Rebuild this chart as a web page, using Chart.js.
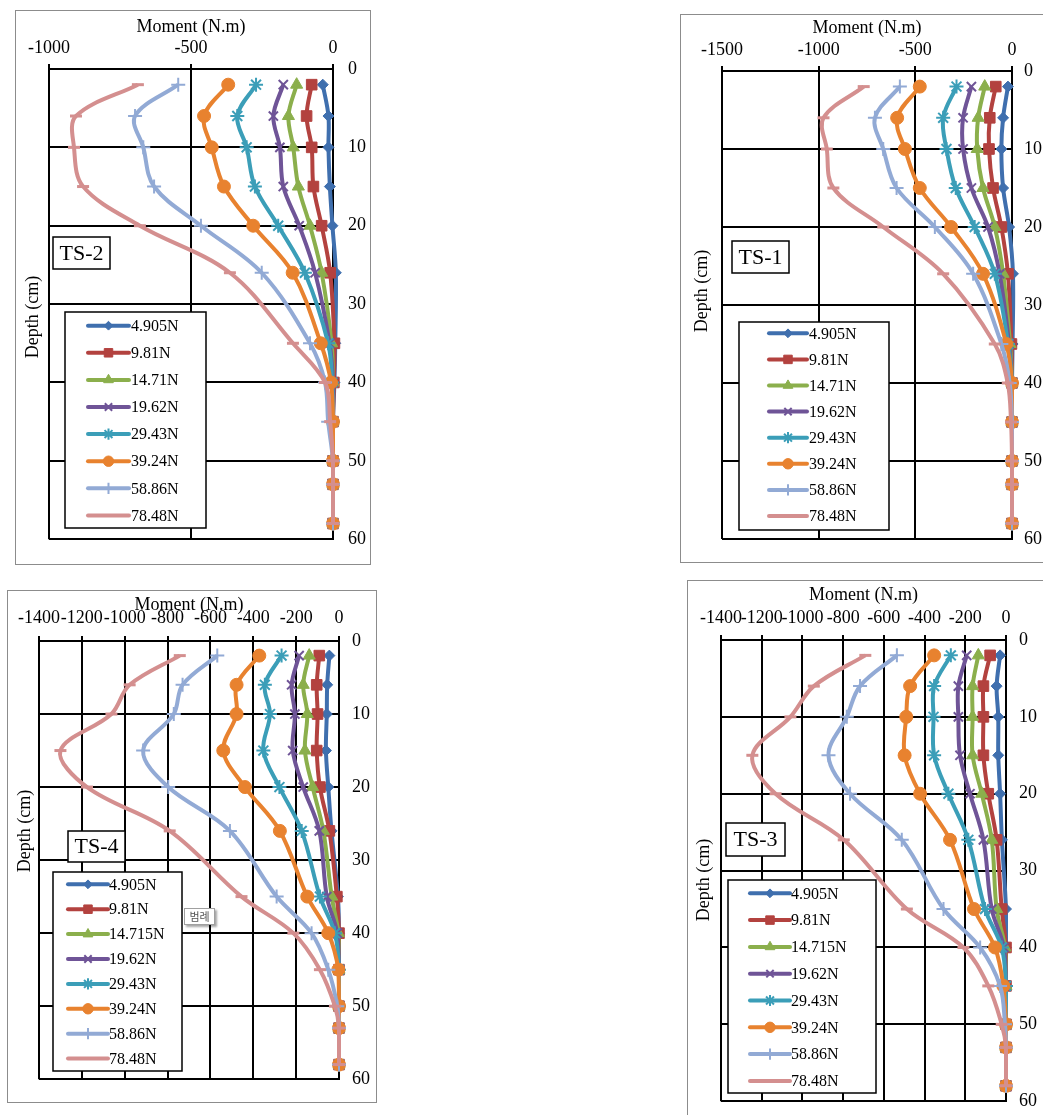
<!DOCTYPE html>
<html>
<head>
<meta charset="utf-8">
<title>Moment vs depth</title>
<script src="https://cdn.jsdelivr.net/npm/chart.js@4.4.1/dist/chart.umd.min.js"></script>
<style>
  html, body { margin: 0; padding: 0; background: #fff; }
  body { width: 1043px; height: 1115px; overflow: hidden; position: relative; }
  canvas { position: absolute; }
  .frame { position: absolute; border: 1.5px solid #8c8c8c; box-sizing: border-box; pointer-events: none; }
  .tip {
    position: absolute; left: 184px; top: 908px; width: 31px; height: 17px;
    border: 1px solid #a0a0a0; background: #fff; box-sizing: border-box;
    box-shadow: 2px 2px 2px rgba(0,0,0,0.35);
    font: 11px "Noto Sans CJK KR", sans-serif; color: #555; text-align: center; line-height: 15px;
  }
</style>
</head>
<body>

<canvas id="ts2" width="356" height="555" style="left:15px;top:10px"></canvas>
<canvas id="ts1" width="380" height="549" style="left:680px;top:14px"></canvas>
<canvas id="ts4" width="370" height="513" style="left:7px;top:590px"></canvas>
<canvas id="ts3" width="373" height="545" style="left:687px;top:580px"></canvas>

<div class="frame" style="left:15px;top:10px;width:356px;height:555px"></div>
<div class="frame" style="left:680px;top:14px;width:380px;height:549px"></div>
<div class="frame" style="left:7px;top:590px;width:370px;height:513px"></div>
<div class="frame" style="left:687px;top:580px;width:373px;height:545px"></div>
<div class="tip">범례</div>

<script>
// depth of each measuring point (cm)
const depths = [2, 6, 10, 15, 20, 26, 35, 40, 45, 50, 53, 58];

const loadsTop = ['4.905N', '9.81N', '14.71N', '19.62N', '29.43N', '39.24N', '58.86N', '78.48N'];
const loadsBottom = ['4.905N', '9.81N', '14.715N', '19.62N', '29.43N', '39.24N', '58.86N', '78.48N'];

// moments (N.m), one row per load, one value per depth
const ts2Moments = [
    [-36, -16, -16, -11, -2, 10, 8, 5, 0, 0, 0, 0],
    [-75, -93, -75, -69, -40, -10, 5, 3, 0, 0, 0, 0],
    [-128, -157, -140, -122, -81, -40, -5, 0, 0, 0, 0, 0],
    [-175, -210, -187, -175, -119, -63, -12, 0, 0, 0, 0, 0],
    [-271, -337, -304, -275, -193, -99, -17, -3, 0, 0, 0, 0],
    [-369, -454, -427, -384, -281, -142, -43, -7, 0, 0, 0, 0],
    [-545, -697, -668, -630, -465, -251, -81, -28, -17, 0, 0, 0],
    [-687, -905, -912, -880, -680, -363, -141, -28, -10, 0, 0, 0]
];
const ts1Moments = [
    [-21, -46, -55, -46, -15, 5, 3, 0, 0, 0, 0, 0],
    [-84, -115, -119, -98, -55, -21, -3, 0, 0, 0, 0, 0],
    [-141, -175, -180, -150, -89, -46, -10, 0, 0, 0, 0, 0],
    [-210, -253, -253, -210, -124, -64, -15, 0, 0, 0, 0, 0],
    [-287, -356, -339, -291, -193, -89, -20, 0, 0, 0, 0, 0],
    [-477, -594, -554, -477, -315, -150, -29, 0, 0, 0, 0, 0],
    [-580, -709, -666, -597, -399, -201, -55, -12, 0, 0, 0, 0],
    [-767, -975, -958, -924, -666, -356, -89, -22, -5, 0, 0, 0]
];
const ts4Moments = [
    [-45, -55, -57, -61, -50, -35, -5, 0, 0, 0, 0, 0],
    [-92, -104, -100, -104, -89, -45, -10, 0, 0, 0, 0, 0],
    [-139, -167, -148, -159, -123, -73, -34, -3, 0, 0, 0, 0],
    [-186, -221, -206, -216, -167, -92, -57, -8, 0, 0, 0, 0],
    [-268, -346, -322, -353, -278, -174, -89, -19, 0, 0, 0, 0],
    [-372, -478, -478, -540, -439, -276, -148, -50, -3, 0, 0, 0],
    [-568, -730, -771, -914, -797, -509, -291, -128, -50, -8, 0, 0],
    [-743, -977, -1062, -1300, -1176, -790, -455, -213, -89, -19, 0, 0]
];
const ts3Moments = [
    [-29, -46, -38, -38, -29, -20, 0, 0, 0, 0, 0, 0],
    [-78, -111, -111, -111, -87, -46, -21, 0, 0, 0, 0, 0],
    [-136, -164, -164, -164, -119, -70, -46, -5, 0, 0, 0, 0],
    [-193, -234, -234, -226, -177, -111, -70, -10, 0, 0, 0, 0],
    [-271, -353, -356, -353, -283, -185, -103, -21, 0, 0, 0, 0],
    [-353, -471, -490, -498, -422, -275, -157, -54, -13, 0, 0, 0],
    [-536, -717, -782, -872, -766, -512, -307, -127, -29, -5, 0, 0],
    [-691, -944, -1059, -1246, -1132, -797, -487, -209, -87, -21, 0, 0]
];

const ts2Ticks = [-1000, -500, 0];
const ts1Ticks = [-1500, -1000, -500, 0];
const ts34Ticks = [-1400, -1200, -1000, -800, -600, -400, -200, 0];
const depthTicks = [0, 10, 20, 30, 40, 50, 60];

const seriesColors = ['#3F6FAE', '#B3423F', '#8BAF4C', '#6F5497', '#3B9EB8', '#E8822F', '#92AAD5', '#D48F8F'];
const seriesMarkers = ['rectRot', 'rect', 'triangle', 'crossRot', 'star', 'circle', 'cross', 'line'];
const markerRadius = [5.5, 7.5, 7, 6.5, 7, 6.5, 7, 6];
const markerLine = [1, 1, 1, 2, 2, 1, 2, 3];

const SERIF = '"Liberation Serif", "Times New Roman", serif';
Chart.defaults.font.family = SERIF;
Chart.defaults.color = '#000';

// draws the panel name box, legend box and the depth axis label
const panelDecor = {
    id: 'panelDecor',
    afterDraw(chart, args, opts) {
        const ctx = chart.ctx;
        ctx.save();

        ctx.fillStyle = '#000';
        ctx.font = '18px ' + SERIF;
        ctx.textAlign = 'center';
        ctx.textBaseline = 'middle';
        ctx.save();
        ctx.translate(opts.depth[0], opts.depth[1]);
        ctx.rotate(-Math.PI / 2);
        ctx.fillText('Depth (cm)', 0, 0);
        ctx.restore();

        const b = opts.tsBox;
        ctx.fillStyle = '#fff';
        ctx.fillRect(b[0], b[1], b[2], b[3]);
        ctx.strokeStyle = '#000';
        ctx.lineWidth = 1.5;
        ctx.strokeRect(b[0], b[1], b[2], b[3]);
        ctx.fillStyle = '#000';
        ctx.font = '22px ' + SERIF;
        ctx.fillText(opts.name, b[0] + b[2] / 2, b[1] + b[3] / 2 + 1);

        const lg = opts.legend;
        const lb = lg.box;
        ctx.fillStyle = '#fff';
        ctx.fillRect(lb[0], lb[1], lb[2], lb[3]);
        ctx.strokeStyle = '#000';
        ctx.lineWidth = 1.5;
        ctx.strokeRect(lb[0], lb[1], lb[2], lb[3]);

        ctx.font = '16px ' + SERIF;
        ctx.textAlign = 'left';
        chart.data.datasets.forEach((ds, i) => {
            const y = lg.y0 + i * lg.gap;
            ctx.strokeStyle = ds.borderColor;
            ctx.fillStyle = ds.borderColor;
            ctx.lineWidth = 4;
            ctx.lineCap = 'round';
            ctx.beginPath();
            ctx.moveTo(lg.x0, y);
            ctx.lineTo(lg.x1, y);
            ctx.stroke();
            ctx.lineCap = 'butt';
            if (ds.pointStyle !== 'line') {
                ctx.lineWidth = ds.pointBorderWidth;
                Chart.helpers.drawPoint(ctx, {
                    pointStyle: ds.pointStyle,
                    radius: ds.pointRadius * 0.8,
                    borderWidth: ds.pointBorderWidth,
                    rotation: 0
                }, (lg.x0 + lg.x1) / 2, y);
            }
            ctx.fillStyle = '#000';
            ctx.fillText(ds.label, lg.tx, y + 1);
        });
        ctx.restore();
    }
};

function makeDatasets(labels, moments) {
    return labels.map((label, i) => ({
        label: label,
        data: depths.map((d, k) => ({ x: moments[i][k], y: d })),
        showLine: true,
        borderColor: seriesColors[i],
        backgroundColor: seriesColors[i],
        borderWidth: 4,
        tension: 0.35,
        pointStyle: seriesMarkers[i],
        pointRadius: markerRadius[i],
        pointBorderWidth: markerLine[i],
        order: labels.length - i,
        clip: false
    }));
}

function drawPanel(p) {
    const canvas = document.getElementById(p.id);
    const xTicks = p.xTicks;
    new Chart(canvas.getContext('2d'), {
        type: 'scatter',
        data: { datasets: makeDatasets(p.labels, p.moments) },
        plugins: [panelDecor],
        options: {
            responsive: false,
            animation: false,
            devicePixelRatio: 1,
            events: [],
            layout: { padding: { left: p.plot[0], top: 0, right: 0, bottom: canvas.height - p.plot[3] } },
            plugins: {
                legend: { display: false },
                tooltip: { enabled: false },
                panelDecor: { name: p.name, tsBox: p.tsBox, legend: p.legend, depth: p.depth }
            },
            scales: {
                x: {
                    type: 'linear',
                    position: 'top',
                    min: xTicks[0],
                    max: xTicks[xTicks.length - 1],
                    afterBuildTicks: s => { s.ticks = xTicks.map(v => ({ value: v })); },
                    afterFit: s => { s.height = p.plot[1]; },
                    ticks: {
                        font: { size: 18 },
                        padding: p.tickPad,
                        maxRotation: 0,
                        autoSkip: false,
                        callback: v => String(v)
                    },
                    grid: { color: '#000', lineWidth: 2, tickLength: 5 },
                    border: { display: true, color: '#000', width: 2 },
                    title: { display: true, text: 'Moment (N.m)', font: { size: 18 }, padding: { top: p.titlePad, bottom: 0 } }
                },
                y: {
                    type: 'linear',
                    position: 'right',
                    reverse: true,
                    min: depthTicks[0],
                    max: depthTicks[depthTicks.length - 1],
                    afterBuildTicks: s => { s.ticks = depthTicks.map(v => ({ value: v })); },
                    afterFit: s => { s.width = canvas.width - p.plot[2]; },
                    ticks: { font: { size: 18 }, padding: p.yPad, callback: v => String(v) },
                    grid: { color: '#000', lineWidth: 2, drawTicks: false },
                    border: { display: true, color: '#000', width: 2 }
                }
            }
        }
    });
}

drawPanel({
    id: 'ts2', name: 'TS-2', labels: loadsTop, moments: ts2Moments, xTicks: ts2Ticks,
    plot: [34, 59, 318, 539], yPad: 15, titlePad: 6, tickPad: 5,
    tsBox: [38, 227, 57, 32],
    legend: { box: [50, 302, 141, 216], y0: 315.7, gap: 27.1, x0: 73, x1: 114, tx: 116 },
    depth: [18, 307]
});
drawPanel({
    id: 'ts1', name: 'TS-1', labels: loadsTop, moments: ts1Moments, xTicks: ts1Ticks,
    plot: [42, 57, 332, 525], yPad: 12, titlePad: 3.5, tickPad: 5,
    tsBox: [52, 227, 57, 32],
    legend: { box: [59, 308, 150, 208], y0: 319.3, gap: 26.1, x0: 89, x1: 127, tx: 129 },
    depth: [22, 277]
});
drawPanel({
    id: 'ts4', name: 'TS-4', labels: loadsBottom, moments: ts4Moments, xTicks: ts34Ticks,
    plot: [32, 51, 332, 499], yPad: 13, titlePad: 4, tickPad: 6.5,
    tsBox: [61, 241, 57, 31],
    legend: { box: [46, 282, 129, 199], y0: 294.3, gap: 24.9, x0: 61, x1: 101, tx: 102 },
    depth: [18.5, 241]
});
drawPanel({
    id: 'ts3', name: 'TS-3', labels: loadsBottom, moments: ts3Moments, xTicks: ts34Ticks,
    plot: [34, 60, 319, 523], yPad: 13, titlePad: 4, tickPad: 6,
    tsBox: [39, 243, 59, 33],
    legend: { box: [41, 300, 148, 213], y0: 313.3, gap: 26.8, x0: 63, x1: 103, tx: 104 },
    depth: [17, 300]
});
</script>
</body>
</html>
